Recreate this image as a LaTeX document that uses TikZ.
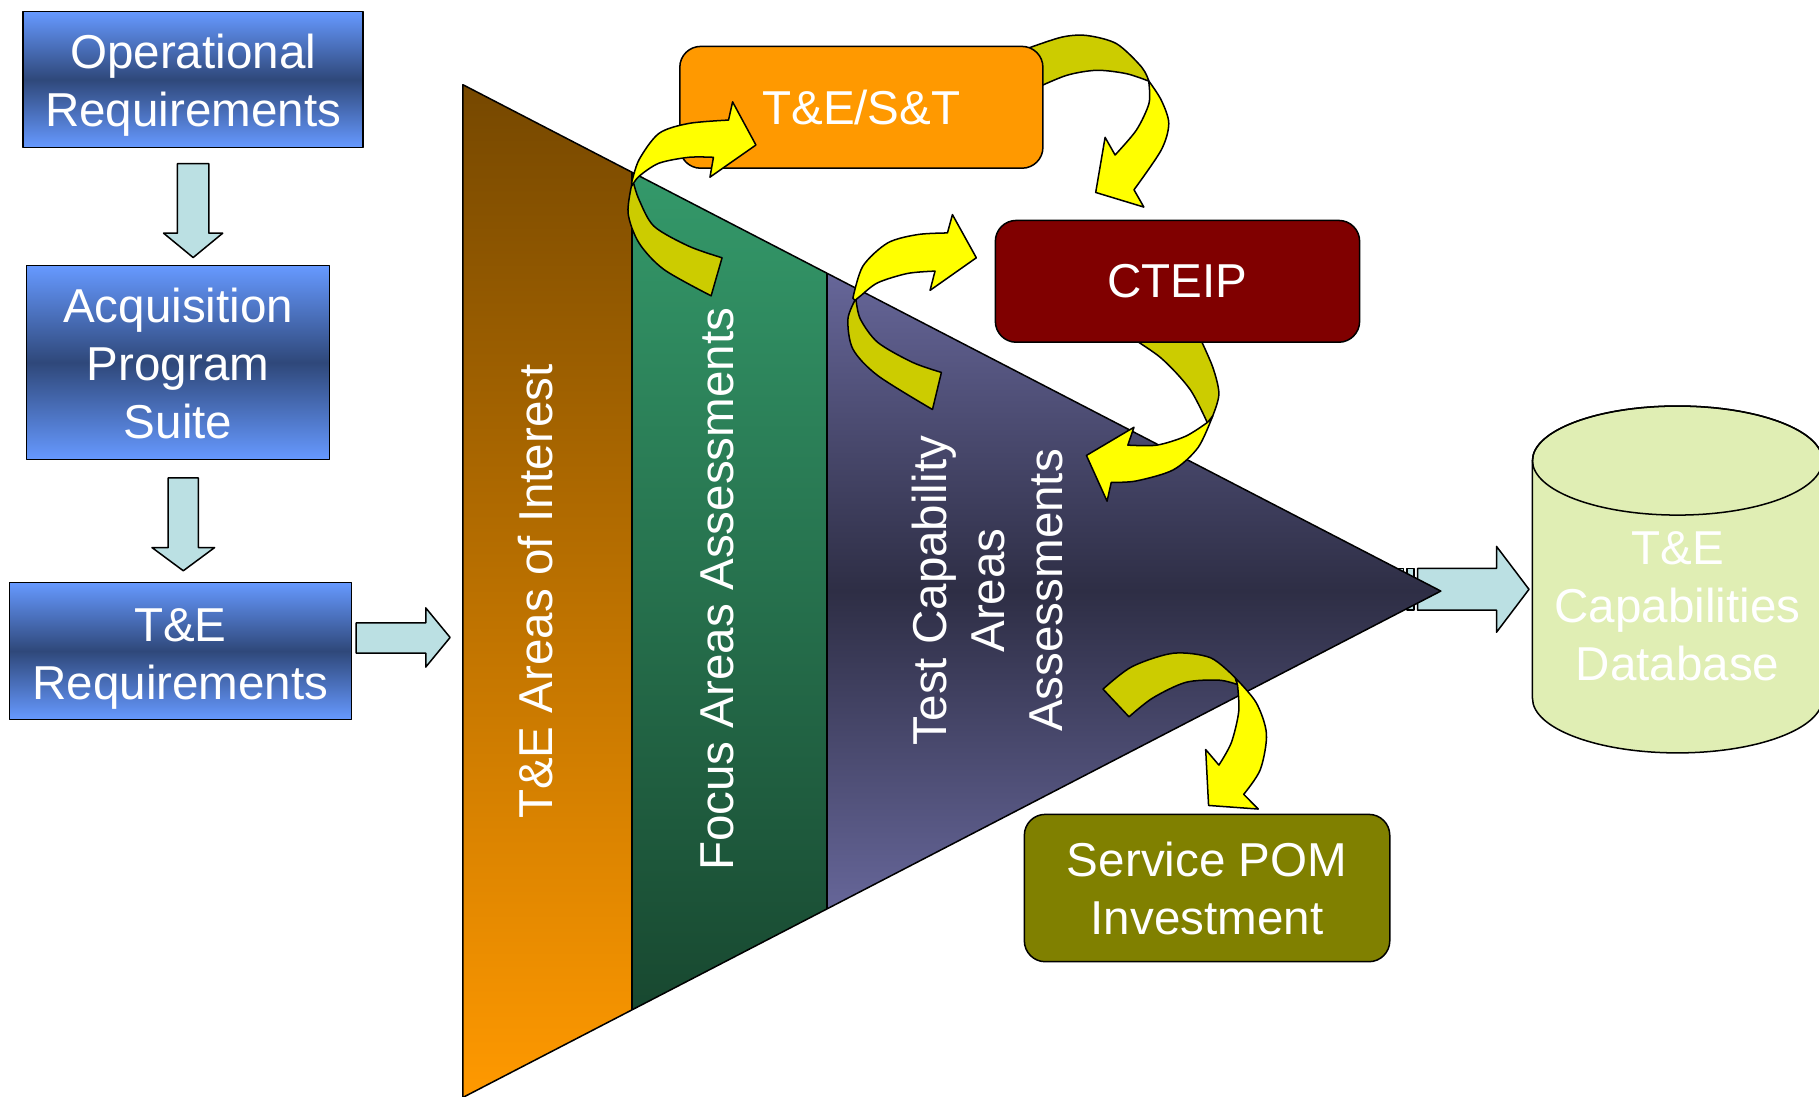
\documentclass[tikz,border=0pt]{standalone}
\usepackage{fontspec}
\setmainfont{Liberation Sans}
\usetikzlibrary{calc}
\definecolor{boxlight}{RGB}{102,153,255}
\definecolor{boxdark}{RGB}{47,72,122}
\definecolor{arrowfill}{RGB}{187,224,227}
\definecolor{ybright}{RGB}{255,255,0}
\definecolor{ydark}{RGB}{204,204,0}
\definecolor{tesorange}{RGB}{255,153,0}
\definecolor{cteipred}{RGB}{128,0,0}
\definecolor{pomolive}{RGB}{128,128,0}
\definecolor{dbfill}{RGB}{224,238,180}
\definecolor{orangetop}{RGB}{118,72,0}
\definecolor{orangebot}{RGB}{255,153,0}
\definecolor{greentop}{RGB}{52,153,106}
\definecolor{greenbot}{RGB}{24,72,48}
\definecolor{purplelight}{RGB}{102,102,153}
\definecolor{purpledark}{RGB}{46,46,69}
\newcommand\bodyfont{\fontsize{41}{50}\selectfont}
\tikzset{
  bluebox/.style={draw=black, top color=boxlight, bottom color=boxlight, middle color=boxdark,
    text=white, align=center, inner sep=0pt},
  roundbox/.style={draw=black, rounded corners=18pt, text=white, align=center, inner sep=0pt},
  blockarrow/.style={draw=black, fill=arrowfill},
  ydarkband/.style={draw=black, fill=ydark},
  ybrightband/.style={draw=black, fill=ybright},
  bandtext/.style={text=white, rotate=90, align=center, inner sep=0pt}
}
\begin{document}
\begin{tikzpicture}[x=1pt,y=-1pt, line width=1.3pt, font=\bodyfont, line join=round]
\useasboundingbox (0,0) rectangle (1568,945);
\clip (0,0) rectangle (1568,945);

% arrow to database (behind the funnel)
\filldraw[blockarrow] (1206,490) rectangle (1210,526);
\filldraw[blockarrow] (1213,490) rectangle (1219,526);
\filldraw[blockarrow] (1222,490) -- (1290,490) -- (1290,471) -- (1318,508) -- (1290,545) -- (1290,526) -- (1222,526) -- cycle;

% funnel
\shade[top color=orangetop, bottom color=orangebot] (399,73) -- (545,148.6) -- (545,870.4) -- (399,946) -- cycle;
\shade[top color=greentop, bottom color=greenbot] (545,148.6) -- (713,235.6) -- (713,783.4) -- (545,870.4) -- cycle;
\shade[top color=purplelight, bottom color=purplelight, middle color=purpledark] (713,235.6) -- (1242,509.5) -- (713,783.4) -- cycle;
\draw (399,73) -- (1242,509.5) -- (399,946) -- cycle;
\draw (545,148.6) -- (545,870.4);
\draw (713,235.6) -- (713,783.4);

\node[bandtext] (aoi) at (462,510) {T\&E Areas of Interest};
\node[bandtext] (faa) at (618,508) {Focus Areas Assessments};
\node[bandtext] (tca) at (851,509) {Test Capability\\Areas\\Assessments};

% left column
\node[bluebox, minimum width=293pt, minimum height=117pt, text height=90pt] (op) at (166.5,68.5) {Operational\\Requirements};
\node[bluebox, minimum width=261pt, minimum height=167pt, text height=132pt] (acq) at (153.5,312.5) {Acquisition\\Program\\Suite};
\node[bluebox, minimum width=295pt, minimum height=118pt, text height=92pt] (ter) at (155.5,561) {T\&E\\Requirements};

\filldraw[blockarrow] (153,141) -- (180,141) -- (180,201) -- (192,201) -- (166.5,222) -- (141,201) -- (153,201) -- cycle;
\filldraw[blockarrow] (145,412) -- (171,412) -- (171,472) -- (185,472) -- (158,492) -- (131,472) -- (145,472) -- cycle;
\filldraw[blockarrow] (307,537) -- (367,537) -- (367,524) -- (388,549.5) -- (367,575) -- (367,563) -- (307,563) -- cycle;

% database
\filldraw[draw=black, fill=dbfill] (1321,397) -- (1321,602) arc[start angle=180, end angle=360, x radius=125pt, y radius=47pt]
  -- (1571,397) arc[start angle=0, end angle=180, x radius=125pt, y radius=47pt] -- cycle;
\draw (1446,397) ellipse [x radius=125pt, y radius=47pt];
\node[text=white, align=center, inner sep=0pt] (db) at (1446,523) {T\&E\\Capabilities\\Database};

% curved arrow B (behind T&E/S&T box)
\filldraw[ydarkband] plot[smooth] coordinates {(885,42) (915.3,32) (936.8,30.6) (962.5,37.7) (984,57.7) (990.4,70)}
  -- plot[smooth] coordinates {(990.4,70) (971,63.5) (945.3,60.6) (919.6,64.9) (893,76)} -- cycle;
\filldraw[ybrightband] plot[smooth] coordinates {(990.4,70) (1001,86.3) (1007.5,106.4) (1001,129.3) (977.5,163.6)}
  -- (986,178.5) -- (944.5,165.9) -- (952.6,118.4) -- (961.2,133.6)
  -- plot[smooth] coordinates {(961.2,133.6) (979.6,112.1) (990.4,89.2) (990.4,72)} -- cycle;

% curved arrow D (behind CTEIP box)
\filldraw[ydarkband] plot[smooth] coordinates {(970.4,288) (1000.7,308.5) (1025.7,335.5) (1041,365)}
  -- plot[smooth] coordinates {(1041,365) (1045.3,358.7) (1050.7,339.4) (1045.3,316.2) (1032.8,288)} -- cycle;
\filldraw[ybrightband] plot[smooth] coordinates {(1045.3,358.7) (1032.8,385.7) (1011.4,405) (979.3,414.6) (957.9,415.8)}
  -- (954.3,432) -- (936.5,392.6) -- (977.5,368.3) -- (972.2,383.7)
  -- plot[smooth] coordinates {(972.2,383.7) (997.2,383.7) (1022.1,376) (1041,364)} -- cycle;

% rounded boxes
\node[roundbox, fill=tesorange, minimum width=313pt, minimum height=105pt] (tes) at (742.5,92.5) {T\&E/S\&T};
\node[roundbox, fill=cteipred, minimum width=314pt, minimum height=105pt] (cteip) at (1015,242.5) {CTEIP};
\node[roundbox, fill=pomolive, minimum width=315pt, minimum height=127pt] (pom) at (1040.5,765.5) {Service POM\\Investment};

% curved arrow A
\filldraw[ydarkband] plot[smooth] coordinates {(545,157) (541.4,183.6) (550.8,209.4) (572.3,232.3) (613,255)}
  -- plot[smooth] coordinates {(622.4,222.2) (593.7,212.2) (563.7,195) (550.8,172) (546.5,159)} -- cycle;
\filldraw[ybrightband] plot[smooth] coordinates {(544.4,158) (550.8,137.8) (568,115) (593.7,106.4) (628,103.5)}
  -- (631.5,87.8) -- (651.6,125) -- (612,152.7) -- (615,135.6)
  -- plot[smooth] coordinates {(615,135.6) (593.7,135.6) (568,140.7) (550.8,152) (545,160)} -- cycle;

% curved arrow C
\filldraw[ydarkband] plot[smooth] coordinates {(737.4,258) (730.9,275.2) (735.2,300.9) (756.7,323.8) (803.8,353)}
  -- plot[smooth] coordinates {(811.5,321) (786.7,312.4) (756.7,295.2) (741.7,275.2) (738,259)} -- cycle;
\filldraw[ybrightband] plot[smooth] coordinates {(735.2,257) (743.8,229.4) (765.2,209.4) (791,202.2) (816.7,200.8)}
  -- (821,185) -- (841.6,222.2) -- (801.7,250.3) -- (806,233.7)
  -- plot[smooth] coordinates {(806,233.7) (782.4,235.7) (756.7,243.7) (741.7,255.1) (737,259)} -- cycle;

% curved arrow E
\filldraw[ydarkband] plot[smooth] coordinates {(950.8,594) (975.7,574.7) (1011.4,563.1) (1043.5,567) (1064.9,584.4)}
  -- plot[smooth] coordinates {(1066.7,590.1) (1050.7,586.3) (1022.1,588.2) (993.6,601.7) (973.2,617.9)} -- cycle;
\filldraw[ybrightband] plot[smooth] coordinates {(1064.9,584.4) (1082.8,605.6) (1091.7,632.6) (1086.4,663.4) (1072.1,684.7)}
  -- (1084.6,697.4) -- (1041.8,694.3) -- (1039.3,646.1) -- (1050.7,659.5)
  -- plot[smooth] coordinates {(1050.7,659.5) (1061.4,640.2) (1067.8,613.2) (1066.7,590.1)} -- cycle;
\end{tikzpicture}
\end{document}
